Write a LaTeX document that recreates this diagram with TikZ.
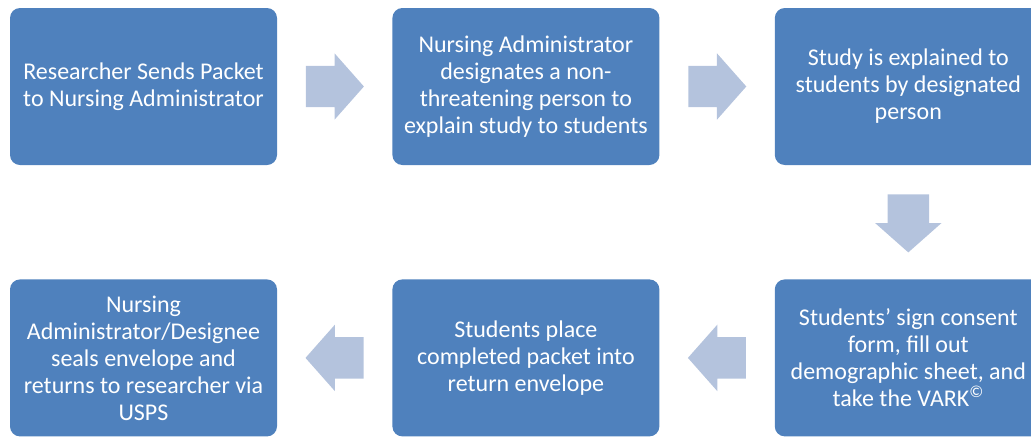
\documentclass[tikz,border=0pt]{standalone}
\usepackage{fontspec}
\setmainfont{Carlito}
\usetikzlibrary{positioning,calc,shapes.arrows}
\definecolor{nbox}{HTML}{4F81BD}
\definecolor{nflow}{HTML}{B4C3DD}
\tikzset{
  n/.style  = {fill=nbox, draw=none, rounded corners=10pt, inner sep=0pt,
               minimum width=267pt, minimum height=157pt, align=center,
               text=white, font=\fontsize{24}{27}\selectfont},
  ba/.style = {single arrow, fill=nflow, draw=none, anchor=tail,
               inner xsep=0pt, inner ysep=20.5pt, minimum height=58pt,
               single arrow head extend=12.5pt, single arrow tip angle=97},
  node distance = 114pt and 115pt,
}

\begin{document}
\begin{tikzpicture}[x=1pt, y=1pt]
\useasboundingbox (0,0) rectangle (1031,-437);

% ---- top row, left to right
\node[n] (send) at (143.5,-86.5) {Researcher Sends Packet\\to Nursing Administrator};
\node[n, right=of send]  (desig) {Nursing Administrator\\designates a non-\\threatening person to\\explain study to students};
\node[n, right=of desig] (expl)  {Study is explained to\\students by designated\\person};

% ---- bottom row, right to left
\node[n, below=of expl]  (sign)  {Students’ sign consent\\form, fill out\\demographic sheet, and\\take the VARK\textsuperscript{\textcopyright}};
\node[n, left=of sign]   (place) {Students place\\completed packet into\\return envelope};
\node[n, left=of place]  (seal)  {Nursing\\Administrator/Designee\\seals envelope and\\returns to researcher via\\USPS};

% ---- block arrows, tail set half a length back from the gap's middle
\node[ba]             (f1) at ($(send.east)!0.5!(desig.west)!29pt!(send.east)$) {};
\node[ba]             (f2) at ($(desig.east)!0.5!(expl.west)!29pt!(desig.east)$) {};
\node[ba, rotate=-90] (f3) at ($(expl.south)!0.5!(sign.north)!28pt!(expl.south)$) {};
\node[ba, rotate=180] (f4) at ($(sign.west)!0.5!(place.east)!29pt!(sign.west)$) {};
\node[ba, rotate=180] (f5) at ($(place.west)!0.5!(seal.east)!29pt!(place.west)$) {};

\end{tikzpicture}
\end{document}
